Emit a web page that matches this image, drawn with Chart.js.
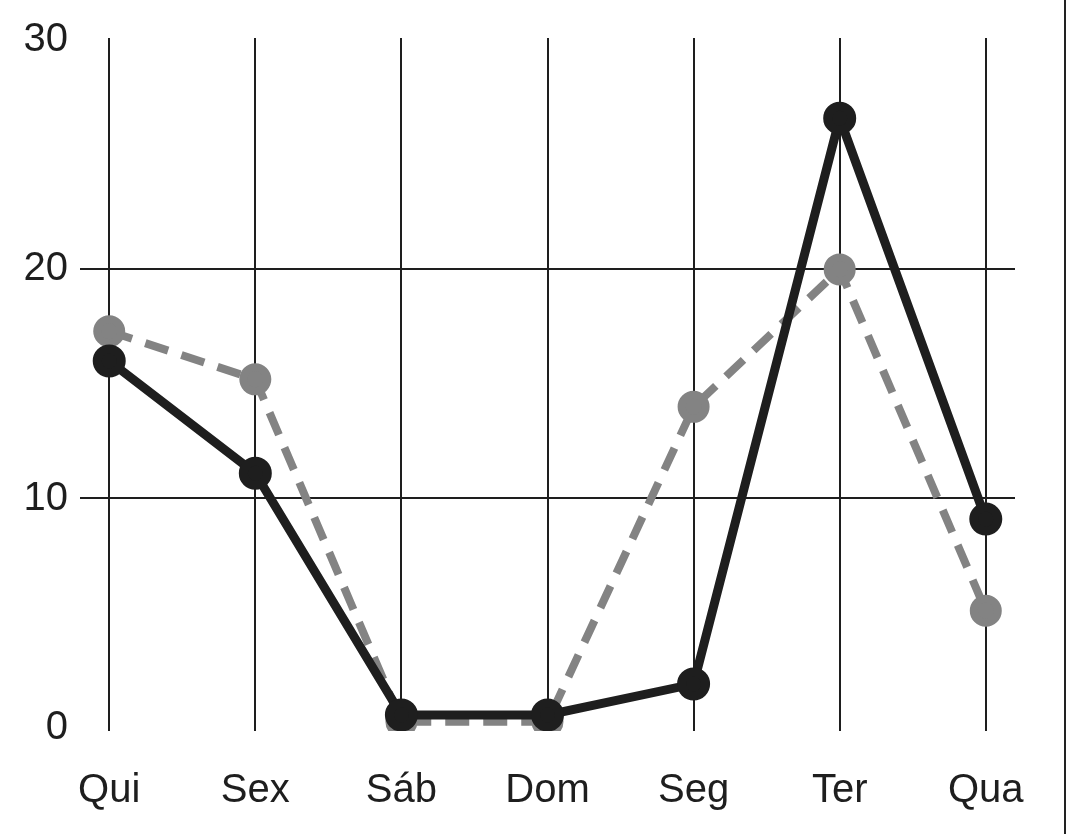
<!DOCTYPE html>
<html><head><meta charset="utf-8">
<script src="https://cdn.jsdelivr.net/npm/chart.js@4"></script>
<style>html,body{margin:0;background:#fff}#w{position:relative;width:1073px;height:834px}
#b{position:absolute;left:1064px;top:0;width:2px;height:834px;background:#222}</style>
</head><body><div id="w"><canvas id="c" width="1073" height="834"></canvas><div id="b"></div></div>
<script>
const categories=["Qui","Sex","Sáb","Dom","Seg","Ter","Qua"];
const seriesBlack=[16,11.1,0.55,0.55,1.9,26.6,9.1];
const seriesGray=[17.3,15.2,0.25,0.25,14,20,5.1];
const yTicks=[0,10,20,30];
const toPts=a=>a.map((v,i)=>({x:i,y:v}));
new Chart(document.getElementById('c'),{
type:'line',
data:{datasets:[
{data:toPts(seriesGray),borderColor:'#838383',backgroundColor:'#838383',borderWidth:8,borderDash:[24,14],pointRadius:12,pointHoverRadius:12,order:2},
{data:toPts(seriesBlack),borderColor:'#1e1e1e',backgroundColor:'#1e1e1e',borderWidth:9,pointRadius:12,pointHoverRadius:12,order:1}
]},
options:{responsive:false,animation:false,events:[],
layout:{padding:{top:38,right:58,left:0,bottom:0}},
plugins:{legend:{display:false},tooltip:{enabled:false}},
scales:{
x:{type:'linear',min:-0.2,max:6.2,border:{display:false},
afterFit:s=>{s.height=103},
afterBuildTicks:s=>{s.ticks=categories.map((c,i)=>({value:i}))},
ticks:{padding:36,color:'#1e1e1e',font:{family:'Liberation Sans',size:40},callback:v=>categories[v]},
grid:{color:'#1e1e1e',lineWidth:2,drawTicks:false}},
y:{min:-0.15,max:30.1,border:{display:false},
afterFit:s=>{s.width=80},
afterBuildTicks:s=>{s.ticks=yTicks.map(v=>({value:v}))},
ticks:{padding:12,color:'#1e1e1e',font:{family:'Liberation Sans',size:40}},
grid:{color:c=>(c.tick&&(c.tick.value===10||c.tick.value===20))?'#1e1e1e':'rgba(0,0,0,0)',lineWidth:2,drawTicks:false}}
}}});
</script></body></html>
